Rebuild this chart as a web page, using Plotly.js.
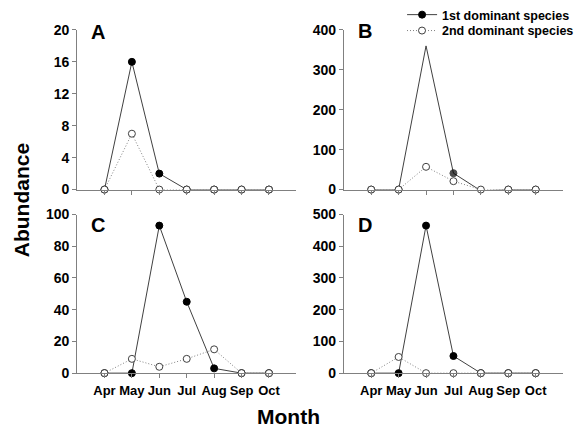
<!DOCTYPE html>
<html><head><meta charset="utf-8">
<script src="https://cdn.plot.ly/plotly-3.0.1.min.js"></script>
<style>html,body{margin:0;padding:0;background:#fff}#chart{width:579px;height:431px}</style>
</head><body><div id="chart"></div>
<script>
const months = ["Apr","May","Jun","Jul","Aug","Sep","Oct"];
const first_A = [0,16,2,0,0,0,0];
const second_A = [0,7,0,0,0,0,0];
const first_B = [0,0,360,41,-3,0,0];
const second_B = [0,0,57,21,0,0,0];
const first_C = [0,0,93,45,3,0,0];
const second_C = [0,9,4,9,15,0,0];
const first_D = [0,0,465,54,0,0,0];
const second_D = [0,51,0,0,0,0,0];
const panelLabels = ["A","B","C","D"];
const yTicks = [[0,4,8,12,16,20],[0,100,200,300,400],[0,20,40,60,80,100],[0,100,200,300,400,500]];
const firstSizes_B = [7,7,0,7,7,7,7];

const FONT = "Liberation Sans, Arial, sans-serif";
const xIdx = months.map((m,i)=>i);
const firsts = [first_A, first_B, first_C, first_D];
const seconds = [second_A, second_B, second_C, second_D];
const traces = [];
for (let p = 0; p < 4; p++) {
  const ax = p === 0 ? '' : String(p+1);
  traces.push({
    x: xIdx, y: firsts[p], type: 'scatter', mode: 'lines+markers',
    name: '1st dominant species', showlegend: p === 0, legend: 'legend', cliponaxis: false,
    xaxis: 'x'+ax, yaxis: 'y'+ax,
    line: {color: '#404040', width: 1},
    marker: {symbol: 'circle', size: p === 1 ? firstSizes_B : 7, color: '#000', line: {color: '#000', width: 1}}
  });
  traces.push({
    x: xIdx, y: seconds[p], type: 'scatter', mode: 'lines+markers',
    name: '2nd dominant species', showlegend: p === 0, legend: 'legend2', cliponaxis: false,
    xaxis: 'x'+ax, yaxis: 'y'+ax,
    line: {color: '#808080', width: 1, dash: '1px,2px'},
    marker: {symbol: 'circle', size: 7, color: '#fff', line: {color: '#404040', width: 1}}
  });
}
const W = 579, H = 431;
const xd = [[78/W, 300/W],[348/W, 570/W]];
const yd = [[1-189/H, 1-29/H],[1-373/H, 1-214/H]];
const legFont = {family: FONT, size: 12.5, color: '#000', weight: 'bold'};
const layout = {
  width: W, height: H, margin: {l:0, r:0, t:0, b:0},
  paper_bgcolor: '#fff', plot_bgcolor: '#fff',
  font: {family: FONT, size: 13, color: '#000', weight: 'bold'},
  showlegend: true,
  legend: {x: 407/W, xanchor: 'left', y: 1-14/H, yanchor: 'middle', bgcolor: 'rgba(0,0,0,0)',
    font: legFont, itemclick: false},
  legend2: {x: 407/W, xanchor: 'left', y: 1-30/H, yanchor: 'middle', bgcolor: 'rgba(0,0,0,0)',
    font: legFont, itemclick: false},
  annotations: [],
  shapes: []
};
const letterPos = [[0.055, 31.5],[0.055, 30],[0.055, 224.5],[0.055, 224.5]];
for (let p = 0; p < 4; p++) {
  const ax = p === 0 ? '' : String(p+1);
  const col = p % 2, row = Math.floor(p/2);
  const t = yTicks[p];
  layout['xaxis'+ax] = {
    domain: xd[col], range: [-1, 7], anchor: 'y'+ax,
    tickmode: 'array', tickvals: xIdx, ticktext: months,
    showticklabels: row === 1, ticks: 'outside', ticklen: 4, tickcolor: '#808080',
    ticklabelstandoff: 1,
    showline: true, linecolor: '#808080', linewidth: 1,
    showgrid: false, zeroline: false, fixedrange: true,
    tickfont: {family: FONT, size: 13, color: '#000', weight: 'bold'}
  };
  layout['yaxis'+ax] = {
    domain: yd[row], range: [0, t[t.length-1]], anchor: 'x'+ax,
    tickmode: 'array', tickvals: t,
    ticks: 'outside', ticklen: 4, tickcolor: '#808080',
    showline: true, linecolor: '#808080', linewidth: 1,
    showgrid: false, zeroline: false, fixedrange: true,
    tickfont: {family: FONT, size: 14, color: '#000', weight: 'bold'}
  };
  const top = row === 0 ? 29 : 214, bot = row === 0 ? 189 : 373;
  layout.annotations.push({
    text: panelLabels[p], xref: 'x'+ax+' domain', yref: 'y'+ax+' domain',
    x: letterPos[p][0], y: (bot - letterPos[p][1])/(bot - top), xanchor: 'left', yanchor: 'middle', showarrow: false,
    font: {family: FONT, size: 20, color: '#000', weight: 'bold'}
  });
}
layout.annotations.push({text: 'Abundance', xref: 'paper', yref: 'paper', x: 22/W, y: 1-200/H,
  textangle: -90, showarrow: false, xanchor: 'center', yanchor: 'middle',
  font: {family: FONT, size: 21, color: '#000', weight: 'bold'}});
layout.annotations.push({text: 'Month', xref: 'paper', yref: 'paper', x: 292/W, y: 1-416/H,
  showarrow: false, xanchor: 'center', yanchor: 'middle',
  font: {family: FONT, size: 21, color: '#000', weight: 'bold'}});
Plotly.newPlot('chart', traces, layout, {displayModeBar: false, staticPlot: true});
</script></body></html>
